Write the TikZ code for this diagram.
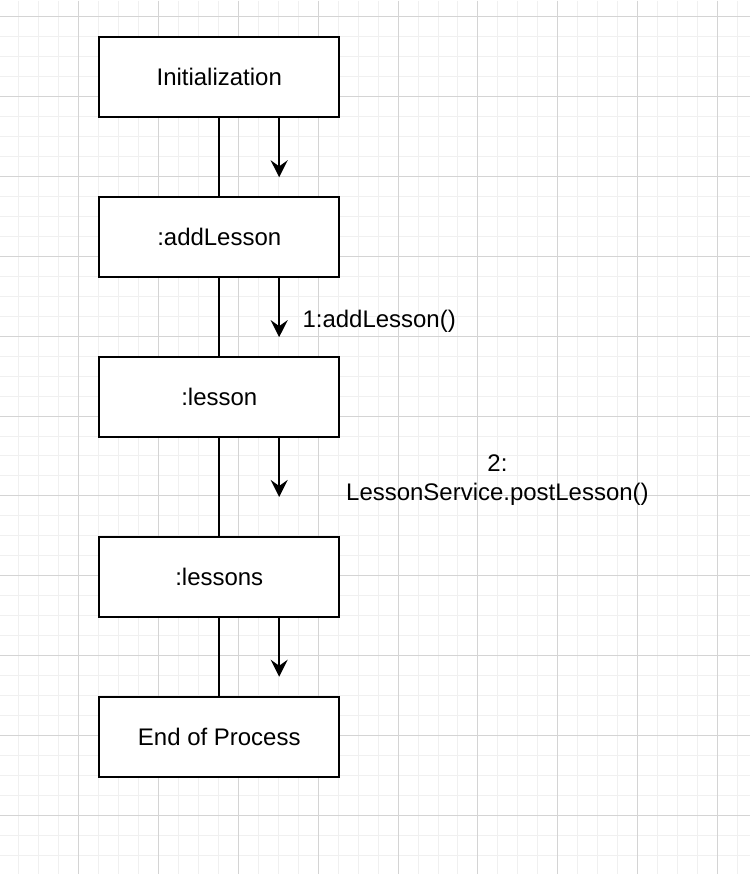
\documentclass[tikz,border=0pt]{standalone}
\usepackage{fontspec}
\setmainfont{Liberation Sans}
\usepackage{tikz}
\usetikzlibrary{arrows.meta, positioning}
\definecolor{gridminor}{RGB}{240, 240, 240}
\definecolor{gridmajor}{RGB}{212, 212, 212}
\tikzstyle{arrow} = [-{Stealth[length=8.5pt, width=8.5pt, inset=3pt]}, line width=1pt]
\tikzstyle{link} = [line width=1pt]
\tikzstyle{box} = [rectangle, minimum width=120pt, minimum height=40pt, outer sep=0pt,
                   text centered, draw=black, line width=1pt, fill=white,
                   font=\fontsize{12pt}{14.4pt}\selectfont]
\tikzstyle{msg} = [inner sep=0pt, font=\fontsize{12pt}{14.4pt}\selectfont]

\begin{document}
\begin{tikzpicture}[node distance=40pt]
    % Background grid
    \fill[white] (0,0) rectangle (375pt,-437pt);
    \foreach \x in {9,19,...,369} \draw[gridminor, line width=0.5pt] (\x pt,0) -- (\x pt,-437pt);
    \foreach \y in {8,18,...,428} \draw[gridminor, line width=0.5pt] (0,-\y pt) -- (375pt,-\y pt);
    \foreach \x in {39,79,...,359} \draw[gridmajor, line width=0.5pt] (\x pt,0) -- (\x pt,-437pt);
    \foreach \y in {8,48,...,408} \draw[gridmajor, line width=0.5pt] (0,-\y pt) -- (375pt,-\y pt);
    \useasboundingbox (0,0) rectangle (375pt,-437pt);

    % Boxes
    \node[box] (init) at (109.5pt,-38.5pt) {Initialization};
    \node[box, below=of init] (addlesson) {:addLesson};
    \node[box, below=of addlesson] (lesson) {:lesson};
    \node[box, below=50pt of lesson] (lessons) {:lessons};
    \node[box, below=of lessons] (finish) {End of Process};

    % Lines
    \draw[link] (init) -- (addlesson);
    \draw[link] (addlesson) -- (lesson);
    \draw[link] (lesson) -- (lessons);
    \draw[link] (lessons) -- (finish);

    % Arrows
    \draw[arrow] ([xshift=30pt]init.south) -- ++(0,-30pt) coordinate (tip1);
    \draw[arrow] ([xshift=30pt]addlesson.south) -- ++(0,-30pt) coordinate (tip2);
    \draw[arrow] ([xshift=30pt]lesson.south) -- ++(0,-30pt) coordinate (tip3);
    \draw[arrow] ([xshift=30pt]lessons.south) -- ++(0,-30pt) coordinate (tip4);

    % Messages
    \node[msg, anchor=base west] (msg1) at ([xshift=11.5pt, yshift=5pt]tip2) {1:addLesson()};
    \node[msg, align=center] (msg2) at ([xshift=109.25pt, yshift=8.5pt]tip3) {2:\\LessonService.postLesson()};
\end{tikzpicture}
\end{document}
